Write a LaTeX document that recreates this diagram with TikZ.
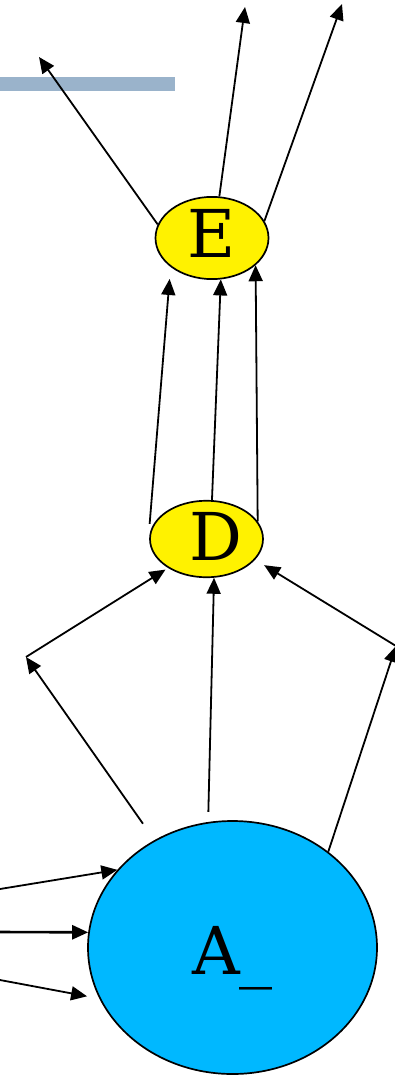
\documentclass[tikz,border=0pt]{standalone}
\usepackage{fontspec}
\setmainfont{DejaVu Serif}
\usepackage{xcolor}
\usetikzlibrary{arrows.meta,shapes.geometric}
\definecolor{barblue}{HTML}{9AB3CB}
\definecolor{skyfill}{HTML}{00B8FF}

\begin{document}
\begin{tikzpicture}[x=1pt,y=-1pt,>={Triangle[length=16pt,width=14pt]},line join=round,
  state/.style={ellipse,draw,line width=1.7pt,inner sep=0pt,font=\fontsize{66}{70}\selectfont},
  edge/.style={->,line width=1.8pt}]
  \useasboundingbox (0,0) rectangle (395,1075);
  \fill[barblue] (0,77) rectangle (175,91);
  % the three states
  \node[state,fill=yellow,minimum width=113pt,minimum height=76pt,text depth=10pt] (E) at (212,238) {E};
  \node[state,fill=yellow,minimum width=113pt,minimum height=76pt,text depth=6pt] (D) at (206.5,539) {\hspace*{19pt}D};
  \node[state,fill=skyfill,minimum width=289pt,minimum height=253pt,text height=69pt,text depth=16pt] (A) at (232.5,947.5) {A\_};
  % free ends
  \coordinate (EL) at (39,57);
  \coordinate (EM) at (245,7);
  \coordinate (ER) at (342,4);
  \coordinate (L) at (26,657);
  \coordinate (R) at (396,646);
  \coordinate (I1) at (0,889);
  \coordinate (I2) at (0,932);
  \coordinate (I3) at (0,980);
  % out of E
  \draw[edge] (E.166) -- (EL);
  \draw[edge] (E.80) -- (EM);
  \draw[edge] (E.18) -- (ER);
  % D to E
  \draw[edge,shorten >=12pt] ([xshift=-4pt]D.164) -- (E.215);
  \draw[edge] (D.82) -- (E.282);
  \draw[edge] (D.19) -- (E.328);
  % into D
  \draw[edge,shorten >=3pt] (L) -- (D.217);
  \draw[edge,shorten <=10pt] (A.101) -- (D.281);
  \draw[edge,shorten >=10.5pt] (R) -- (D.337);
  % out of A
  \draw[edge,shorten <=20pt] (A.126) -- (L);
  \draw[edge] (A.45) -- (R);
  % into A
  \draw[edge] (I1) -- (A.146);
  \draw[edge,line width=2.6pt] (I2) -- (A.174);
  \draw[edge,shorten >=12.5pt] (I3) -- (A.201);
\end{tikzpicture}
\end{document}
